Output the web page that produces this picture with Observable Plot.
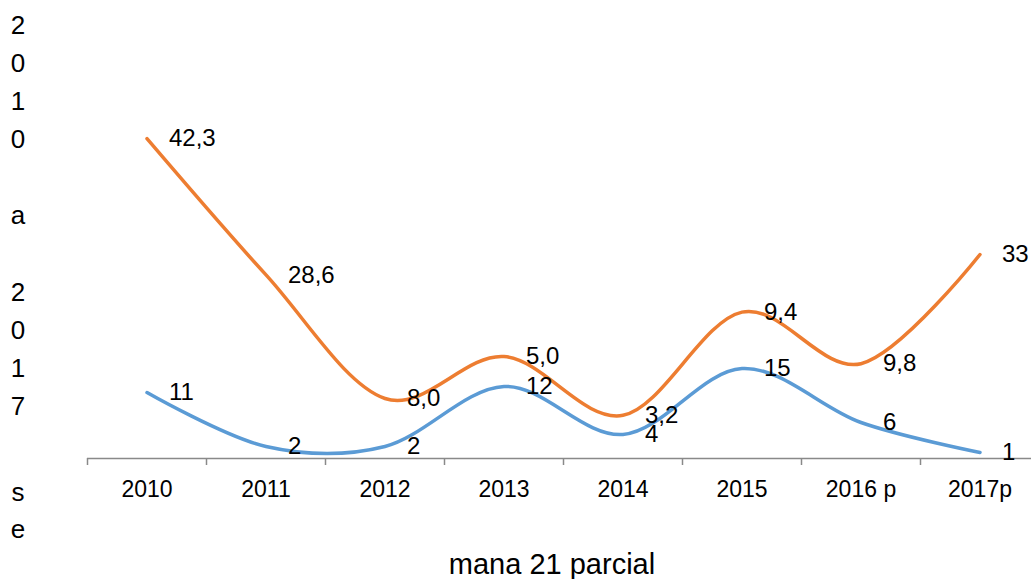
<!DOCTYPE html>
<html>
<head>
<meta charset="utf-8">
<script src="https://cdn.jsdelivr.net/npm/d3@7"></script>
<script src="https://cdn.jsdelivr.net/npm/@observablehq/plot@0.6"></script>
<style>
  html, body { margin: 0; padding: 0; background: #fff; }
  #wrap { position: relative; width: 1031px; height: 579px; overflow: hidden; font-family: "Liberation Sans", Arial, sans-serif; color: #000; }
  #wrap svg { position: absolute; left: 0; top: 0; }
  .vt { position: absolute; left: 5px; width: 26px; text-align: center; white-space: pre; font-size: 26px; }
  #vt1 { top: 6px; line-height: 38.1px; }
  #vt2 { top: 474px; line-height: 37px; }
  #xt { position: absolute; left: 552px; top: 551px; transform: translateX(-50%); font-size: 29px; line-height: 27px; white-space: nowrap; }
</style>
</head>
<body>
<div id="wrap"></div>
<script>
const categories = ["2010", "2011", "2012", "2013", "2014", "2015", "2016 p", "2017p"];
const blueValues = [11, 2, 2, 12, 4, 15, 6, 1];
const orangeValues = [42.3, 28.6, 8.0, 5.0, 3.2, 9.4, 9.8, 33];
const blueLabels = ["11", "2", "2", "12", "4", "15", "6", "1"];
const orangeLabels = ["42,3", "28,6", "8,0", "5,0", "3,2", "9,4", "9,8", "33"];
const yTitleTop = ["2", "0", "1", "0", "", "a", "", "2", "0", "1", "7"];
const yTitleBottom = ["s", "e"];
const xTitle = "mana 21 parcial";

const blue = categories.map((c, i) => ({i: i + 0.5, y: blueValues[i], label: blueLabels[i]}));
const orange = categories.map((c, i) => ({i: i + 0.5, y: blueValues[i] + orangeValues[i], label: orangeLabels[i]}));

const BLUE = "#5B9BD5", ORANGE = "#ED7D31";

const chart = Plot.plot({
  width: 1031,
  height: 579,
  marginLeft: 87,
  marginRight: 0,
  marginTop: 128,
  marginBottom: 121,
  style: {fontFamily: "'Liberation Sans', Arial, sans-serif", fontSize: "22px", color: "#000", background: "transparent", overflow: "visible"},
  x: {domain: [0, categories.length], range: [87, 1039]},
  y: {domain: [0, 55], axis: null},
  marks: [
    Plot.ruleY([0], {stroke: "#898989", strokeWidth: 1.5}),
    Plot.axisX(d3.range(categories.length + 1), {tickSize: 7, tickFormat: () => "", label: null, stroke: "#898989", strokeWidth: 1.5}),
    Plot.axisX(d3.range(categories.length).map(i => i + 0.5), {tickSize: 0, tickPadding: 22, label: null, tickFormat: d => categories[Math.floor(d)], fill: "#000", fontSize: 23}),
    Plot.line(blue, {x: "i", y: "y", stroke: BLUE, strokeWidth: 3.5, curve: "cardinal", tension: 0}),
    Plot.line(orange, {x: "i", y: "y", stroke: ORANGE, strokeWidth: 3.5, curve: "cardinal", tension: 0}),
    Plot.text(blue, {x: "i", y: "y", text: "label", textAnchor: "start", dx: 22, fill: "#000", fontSize: 24}),
    Plot.text(orange, {x: "i", y: "y", text: "label", textAnchor: "start", dx: 22, fill: "#000", fontSize: 24})
  ]
});

const wrap = document.getElementById("wrap");
wrap.appendChild(chart);
const vt1 = document.createElement("div");
vt1.className = "vt"; vt1.id = "vt1"; vt1.textContent = yTitleTop.join("\n");
const vt2 = document.createElement("div");
vt2.className = "vt"; vt2.id = "vt2"; vt2.textContent = yTitleBottom.join("\n");
const xt = document.createElement("div");
xt.id = "xt"; xt.textContent = xTitle;
wrap.appendChild(vt1); wrap.appendChild(vt2); wrap.appendChild(xt);
</script>
</body>
</html>
